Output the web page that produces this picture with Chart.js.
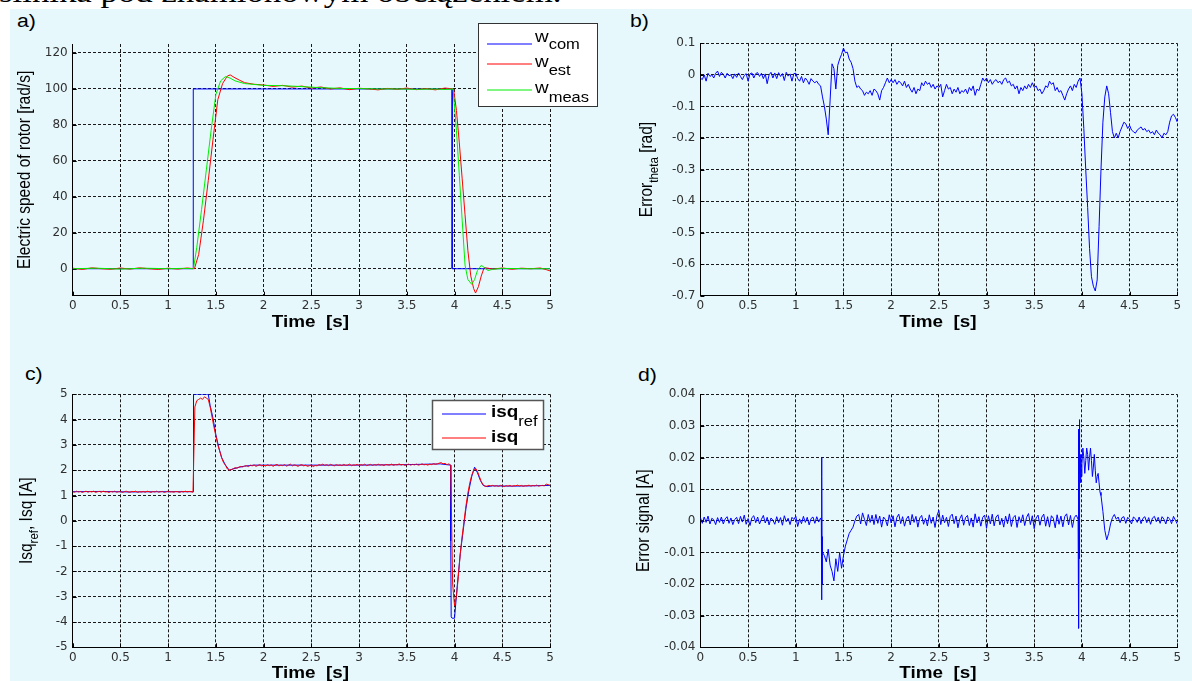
<!DOCTYPE html>
<html><head><meta charset="utf-8">
<script src="https://cdn.jsdelivr.net/npm/chart.js@4.4.0/dist/chart.umd.min.js"></script>
<style>
html,body{margin:0;padding:0;background:#fff;width:1192px;height:681px;overflow:hidden;position:relative}
#top{position:absolute;left:-1px;top:-22px;font-family:'Liberation Serif',serif;font-size:29px;line-height:29px;white-space:nowrap;transform:scaleX(1.2);transform-origin:0 0;color:#000}
#bg{position:absolute;left:10px;top:9px;width:1182px;height:672px;background:#e6f8fc}
.pl{position:absolute;font-family:'Liberation Sans',Arial,sans-serif;font-size:18px;line-height:18px;transform:scaleX(1.18);transform-origin:0 0;color:#000}
canvas{position:absolute;left:0;top:0}
</style></head><body>
<div id="top">silnika pod znamionowym obciążeniem.</div>
<div id="bg"></div>
<div class="pl" style="left:17px;top:12px">a)</div>
<div class="pl" style="left:630px;top:12px">b)</div>
<div class="pl" style="left:25px;top:365px">c)</div>
<div class="pl" style="left:638px;top:366px">d)</div>
<canvas id="ca" width="1192" height="681"></canvas>
<canvas id="cb" width="1192" height="681"></canvas>
<canvas id="cc" width="1192" height="681"></canvas>
<canvas id="cd" width="1192" height="681"></canvas>
<script>
// ---------- tick values ----------
const xTicks = [0,0.5,1,1.5,2,2.5,3,3.5,4,4.5,5];
const yTicksA = [0,20,40,60,80,100,120];
const yTicksB = [-0.7,-0.6,-0.5,-0.4,-0.3,-0.2,-0.1,0,0.1];
const yTicksC = [-5,-4,-3,-2,-1,0,1,2,3,4,5];
const yTicksD = [-0.04,-0.03,-0.02,-0.01,0,0.01,0.02,0.03,0.04];

// ---------- panel a: rotor speed ----------
const wComT = [0,1.263,1.263,3.975,3.975,5];
const wComV = [0,0,100,100,0,0];
const wEstT = [0,0.1,0.2,0.3,0.4,0.5,0.6,0.7,0.8,0.9,1.0,1.1,1.2,1.275,
  1.32,1.37,1.42,1.47,1.52,1.57,1.62,1.65,1.7,1.75,1.8,
  1.9,2.0,2.1,2.2,2.3,2.4,2.5,2.6,2.7,2.8,2.9,3.0,3.1,3.2,3.3,3.4,3.5,3.6,3.7,3.8,3.9,3.99,
  4.02,4.05,4.08,4.11,4.14,4.17,4.2,4.22,4.25,4.28,4.31,4.35,4.4,4.5,4.6,4.7,4.8,4.9,4.96,5.0];
const wEstV = [0.3,-0.4,0.5,0,-0.3,0.4,-0.2,0.5,0,-0.4,0.3,-0.2,0.4,0,
  8,27,49,72,94,103,107.2,107.8,106.2,104.8,103.5,
  102.6,102.2,101.4,102,101,101.6,100.5,101.1,100,100.6,99.6,100.4,100,99.5,100.3,99.8,100.5,99.6,100.2,99.5,100.5,100,
  88,70,50,30,10,-4,-11,-13.5,-10,-4,0.6,0.3,-0.2,0.4,-0.3,0.3,0,0.4,-0.5,-1.2];
const wMeasT = [0,0.25,0.5,0.75,1.0,1.15,1.265,
  1.3,1.35,1.4,1.45,1.5,1.55,1.6,1.65,1.7,
  1.8,1.9,2.0,2.2,2.4,2.6,2.8,3.0,3.2,3.4,3.6,3.8,3.9,
  3.985,4.02,4.05,4.08,4.11,4.14,4.18,4.21,4.24,4.28,4.31,4.35,4.4,4.5,4.75,5.0];
const wMeasV = [0,0.3,-0.2,0.3,0,0.2,0,
  12,33,55,77,97,104.5,106.9,106,104.5,
  103,102.5,102,101.8,101.3,100.7,100.3,100.2,100,100,99.8,100,99.7,
  100,77,52,27,2,-6,-8.7,-6,-1,1.9,0.8,-1,-0.3,0.2,0,0];

// ---------- panel b: theta error (sampled every 0.02 s) ----------
const dtB = 0.02;
const errTheta = [
 -0.01,-0.015,0.0,-0.02,0.005,-0.005,0.0,-0.01,0.005,0.012,
 -0.005,0.008,0.002,-0.01,0.005,-0.003,0.0,-0.012,0.003,-0.008,
 0.006,-0.005,-0.015,-0.002,0.004,-0.02,0.003,0.006,-0.01,0.004,
 0.007,-0.005,0.005,-0.012,0.003,-0.028,0.0,0.008,-0.01,0.006,
 -0.012,0.007,-0.005,0.004,-0.018,0.008,-0.004,0.003,-0.02,0.004,
 0.005,-0.012,-0.02,-0.005,-0.025,-0.01,-0.018,-0.03,-0.012,-0.02,
 -0.025,-0.02,-0.03,-0.035,-0.07,-0.1,-0.14,-0.19,-0.08,0.035,
 0.02,-0.045,0.03,0.05,0.065,0.085,0.07,0.072,0.05,0.04,
 0.02,-0.02,-0.04,-0.035,-0.045,-0.05,-0.065,-0.055,-0.06,-0.05,
 -0.065,-0.045,-0.05,-0.06,-0.08,-0.05,-0.04,-0.025,-0.01,-0.025,
 -0.015,-0.025,-0.015,-0.03,-0.02,-0.025,-0.035,-0.02,-0.04,-0.03,
 -0.045,-0.055,-0.04,-0.06,-0.045,-0.05,-0.025,-0.035,-0.02,-0.03,
 -0.025,-0.04,-0.03,-0.045,-0.035,-0.04,-0.03,-0.07,-0.05,-0.03,
 -0.045,-0.04,-0.06,-0.045,-0.055,-0.04,-0.06,-0.05,-0.055,-0.045,
 -0.06,-0.04,-0.05,-0.035,-0.065,-0.045,-0.05,-0.03,-0.01,-0.02,
 -0.01,-0.025,-0.015,-0.03,-0.02,-0.015,-0.025,-0.02,-0.03,-0.015,
 -0.01,-0.025,-0.02,-0.035,-0.03,-0.045,-0.035,-0.06,-0.04,-0.05,
 -0.035,-0.045,-0.03,-0.04,-0.025,-0.04,-0.035,-0.05,-0.045,-0.06,
 -0.05,-0.035,-0.04,-0.02,-0.03,-0.025,-0.05,-0.04,-0.055,-0.05,
 -0.065,-0.08,-0.06,-0.045,-0.035,-0.05,-0.03,-0.04,-0.02,-0.01,
 -0.06,-0.17,-0.3,-0.42,-0.55,-0.64,-0.67,-0.685,-0.65,-0.48,
 -0.3,-0.15,-0.07,-0.035,-0.06,-0.12,-0.18,-0.2,-0.185,-0.2,
 -0.18,-0.165,-0.15,-0.155,-0.17,-0.16,-0.175,-0.18,-0.185,-0.175,
 -0.17,-0.165,-0.175,-0.17,-0.18,-0.175,-0.185,-0.18,-0.19,-0.175,
 -0.185,-0.19,-0.2,-0.185,-0.19,-0.18,-0.15,-0.13,-0.125,-0.135,
 -0.15];

// ---------- panel c: q-axis current ----------
const isqRefT = [0,0.3,0.6,0.9,1.263,1.263,1.267,1.267,1.42,
  1.44,1.47,1.5,1.53,1.56,1.6,1.64,1.68,1.75,1.8,1.9,2.0,
  2.5,3.0,3.5,3.85,3.96,3.96,3.965,3.975,4.0,
  4.03,4.06,4.09,4.12,4.15,4.18,4.21,4.24,4.27,4.3,4.34,4.4,4.6,4.8,5.0];
const isqRefV = [1.15,1.16,1.14,1.15,1.15,2.9,2.9,5,5,
  4.55,4.05,3.4,2.9,2.5,2.2,2.0,2.05,2.12,2.16,2.2,2.2,
  2.2,2.2,2.22,2.25,2.2,-0.8,-3.8,-3.85,-3.85,
  -2.5,-1.3,-0.4,0.5,1.2,1.75,2.12,1.9,1.6,1.4,1.35,1.38,1.37,1.38,1.4];
const dtC = 0.02;
const isqV = [
 1.15,1.13,1.17,1.14,1.16,1.12,1.15,1.17,1.13,1.16,
 1.14,1.17,1.12,1.15,1.16,1.13,1.17,1.14,1.15,1.12,
 1.16,1.14,1.17,1.13,1.15,1.16,1.12,1.15,1.17,1.14,
 1.13,1.16,1.15,1.17,1.12,1.15,1.14,1.16,1.13,1.17,
 1.15,1.12,1.16,1.14,1.17,1.13,1.15,1.16,1.12,1.15,
 1.17,1.14,1.15,1.13,1.16,1.15,1.12,1.16,1.14,1.17,
 1.14,1.16,1.15,1.13,4.5,4.75,4.8,4.85,4.8,4.9,
 4.85,4.8,4.5,4.1,3.7,3.35,3.0,2.75,2.5,2.3,
 2.2,2.05,2.0,2.02,2.05,2.1,2.08,2.12,2.15,2.13,
 2.16,2.18,2.14,2.2,2.17,2.21,2.15,2.19,2.22,2.17,
 2.2,2.16,2.22,2.18,2.21,2.15,2.2,2.23,2.17,2.2,
 2.18,2.22,2.16,2.2,2.24,2.17,2.21,2.19,2.15,2.2,
 2.22,2.17,2.2,2.15,2.18,2.21,2.14,2.19,2.17,2.22,
 2.2,2.24,2.19,2.22,2.18,2.23,2.2,2.17,2.22,2.19,
 2.21,2.18,2.23,2.19,2.2,2.24,2.18,2.21,2.2,2.23,
 2.19,2.22,2.2,2.24,2.18,2.21,2.23,2.19,2.22,2.2,
 2.24,2.2,2.22,2.18,2.23,2.21,2.2,2.24,2.19,2.22,
 2.21,2.25,2.2,2.23,2.19,2.22,2.24,2.2,2.23,2.21,
 2.24,2.2,2.22,2.25,2.21,2.23,2.2,2.24,2.22,2.26,
 2.23,2.25,2.28,2.3,2.25,2.27,2.22,2.25,2.2,-2.5,
 -3.35,-3.0,-2.2,-1.3,-0.6,0.0,0.6,1.1,1.5,1.8,
 2.0,2.08,1.95,1.75,1.55,1.42,1.36,1.37,1.4,1.38,
 1.4,1.37,1.39,1.36,1.4,1.38,1.35,1.39,1.37,1.4,
 1.36,1.39,1.38,1.41,1.37,1.4,1.36,1.39,1.38,1.41,
 1.37,1.4,1.38,1.41,1.37,1.39,1.4,1.38,1.45,1.43,
 1.4];

// ---------- panel d: current error signal ----------
const dtD = 0.02;
const errSigV = [
 0.001,-0.0008,0.0012,-0.0005,0.0015,-0.001,0.0008,0.0003,-0.0012,0.001,
 -0.0005,0.0012,-0.001,0.0006,0.0013,-0.0008,0.0009,-0.0012,0.0004,0.0011,
 -0.0009,0.0014,-0.0004,0.0018,-0.0011,0.0007,-0.0015,0.001,0.0016,-0.0006,
 0.0012,-0.001,0.0005,0.0017,-0.0007,0.0011,-0.0013,0.0009,0.0002,-0.0011,
 0.0013,-0.0006,0.001,-0.0014,0.0016,-0.0003,0.0008,-0.0012,0.0011,0.0004,
 0.0015,-0.0018,0.0006,-0.0009,0.0014,-0.0005,0.0011,-0.0013,0.0007,0.0012,
 -0.0008,0.0013,-0.0004,0.0009,-0.01,-0.011,-0.013,-0.009,-0.014,-0.016,
 -0.019,-0.012,-0.016,-0.01,-0.015,-0.011,-0.008,-0.006,-0.004,-0.003,
 -0.002,0.0,0.0015,0.002,-0.001,0.0025,0.0005,-0.0015,0.002,-0.0005,
 0.0018,-0.0012,0.002,-0.0008,0.0015,-0.002,0.0012,0.0004,-0.0016,0.0019,
 -0.0007,0.0016,-0.0019,0.0011,0.0021,-0.0009,0.0013,-0.0017,0.0006,0.0015,
 -0.0013,0.002,-0.0005,0.0014,-0.002,0.0009,0.0017,-0.0011,0.0008,-0.0016,
 0.0019,-0.0008,0.0012,-0.0021,0.0016,0.0033,-0.0012,0.0018,-0.0006,0.0011,
 -0.0018,0.0014,0.0021,-0.0009,0.0015,-0.0022,0.0007,0.0019,-0.0014,0.001,
 0.0017,-0.0015,0.0009,-0.002,0.0022,-0.0007,0.0013,-0.0017,0.0011,0.0018,
 -0.0024,0.0016,-0.001,0.0021,-0.0016,0.0012,0.0019,-0.0013,0.0008,-0.002,
 0.0015,-0.0009,0.0022,-0.0018,0.001,0.0017,-0.0021,0.0013,-0.0006,0.0019,
 -0.0015,0.0011,0.0023,-0.0012,0.0016,-0.0025,0.0009,0.0018,-0.0014,0.0012,
 0.0021,-0.0017,0.0013,-0.002,0.0016,0.0008,-0.0022,0.0019,-0.0011,0.0015,
 -0.0019,0.0014,0.0022,-0.0013,0.0017,-0.0021,0.001,0.0018,0.0005,0.02,
 0.018,0.02,0.019,0.021,0.02,0.019,0.017,0.016,0.014,0.012,
 0.008,0.003,-0.003,-0.006,-0.004,-0.001,0.001,0.002,0.0005,0.0012,
 -0.0006,0.001,0.0013,-0.0008,0.0011,0.0004,-0.001,0.0012,0.0007,-0.0005,
 0.0012,-0.0009,0.0008,0.0013,-0.0006,0.001,-0.0011,0.0009,0.0014,-0.0003,
 0.0011,-0.0008,0.0013,0.0005,-0.001,0.0012,0.0006,-0.0009,0.0014,0.0002,
 -0.001];
const errSpikeT = [1.268,1.270,1.272,1.274,1.276,1.278,
  3.962,3.964,3.966,3.968,3.970,3.972,3.974,3.976,3.978,3.985,3.99,3.995,
  4.01,4.03,4.05,4.07,4.09,4.11,4.13,4.15,4.17,4.19];
const errSpikeV = [0.0,0.02,-0.025,0.014,-0.02,-0.005,
  0.002,0.029,-0.01,-0.034,0.0,0.032,-0.012,0.025,0.015,0.012,0.021,0.014,
  0.023,0.015,0.023,0.016,0.023,0.014,0.021,0.012,0.015,0.009];

// ---------- series names ----------
const legendA = [{main:'w', sub:'com'}, {main:'w', sub:'est'}, {main:'w', sub:'meas'}];
const legendC = [{main:'isq', sub:'ref'}, {main:'isq', sub:''}];

// ---------- helpers ----------
const pts = (T, V) => T.map((t, i) => ({x: t, y: V[i]}));
const gridPts = (V, dt) => V.map((v, i) => ({x: Math.round(i * dt * 1000) / 1000, y: v}));
const SX = 1.18;
const BLUE = '#0000ff', RED = '#ff0000', GREEN = '#00ee00';

function rich(ctx, parts, cx, cy, vertical) {
  ctx.save();
  ctx.translate(cx, cy);
  if (vertical) { ctx.rotate(-Math.PI / 2); ctx.scale(1, SX); } else { ctx.scale(SX, 1); }
  let w = 0;
  parts.forEach(p => { ctx.font = p.font; p.w = ctx.measureText(p.t).width; w += p.w; });
  let x = -w / 2;
  ctx.textBaseline = 'alphabetic'; ctx.textAlign = 'left'; ctx.fillStyle = '#000';
  parts.forEach(p => { ctx.font = p.font; ctx.fillText(p.t, x, (p.dy || 0)); x += p.w; });
  ctx.restore();
}

function drawLegend(ctx, L, names, colors) {
  ctx.save();
  ctx.fillStyle = '#fff';
  ctx.fillRect(L.x, L.y, L.w, L.h);
  ctx.strokeStyle = L.border; ctx.lineWidth = L.bw;
  ctx.strokeRect(L.x + 0.5, L.y + 0.5, L.w - 1, L.h - 1);
  names.forEach((n, i) => {
    const r = L.rows[i];
    ctx.strokeStyle = colors[i]; ctx.lineWidth = 1;
    ctx.beginPath(); ctx.moveTo(L.lx0, r.line); ctx.lineTo(L.lx1, r.line); ctx.stroke();
    ctx.save();
    ctx.translate(L.tx, 0); ctx.scale(SX, 1);
    ctx.fillStyle = '#000'; ctx.textBaseline = 'alphabetic'; ctx.textAlign = 'left';
    ctx.font = L.mainFont; ctx.fillText(n.main, 0, r.base);
    const w = ctx.measureText(n.main).width;
    if (n.sub) { ctx.font = L.subFont; ctx.fillText(n.sub, w, r.sub); }
    ctx.restore();
  });
  ctx.restore();
}

const TITLE = "15.5px 'Liberation Sans', Arial, sans-serif";
const SUBF = "11.5px 'Liberation Sans', Arial, sans-serif";
const XTITLE = "bold 16px 'Liberation Sans', Arial, sans-serif";

function makeChart(id, spec) {
  const A = spec.area;
  const XH = 30;
  const decoPlugin = {
    id: 'deco' + id,
    beforeDatasetsDraw(chart) {
      const ctx = chart.ctx, ca = chart.chartArea;
      ctx.save();
      ctx.strokeStyle = '#000'; ctx.lineWidth = 1;
      chart.scales.y.ticks.forEach(t => {
        const y = Math.round(chart.scales.y.getPixelForValue(t.value)) + 0.5;
        ctx.beginPath(); ctx.moveTo(ca.left, y); ctx.lineTo(ca.left + 4, y); ctx.stroke();
      });
      chart.scales.x.ticks.forEach(t => {
        const x = Math.round(chart.scales.x.getPixelForValue(t.value)) + 0.5;
        ctx.beginPath(); ctx.moveTo(x, ca.bottom); ctx.lineTo(x, ca.bottom - 4); ctx.stroke();
      });
      ctx.restore();
    },
    afterDraw(chart) {
      const ctx = chart.ctx, ca = chart.chartArea;
      rich(ctx, spec.yTitle, spec.yTitlePos[0], (ca.top + ca.bottom) / 2, true);
      rich(ctx, [{t: 'Time  [s]', font: XTITLE}], (ca.left + ca.right) / 2 - 1, ca.bottom + spec.xTitleOff, false);
      if (spec.legend) drawLegend(ctx, spec.legend, spec.legendNames, spec.legendColors);
    }
  };
  return new Chart(document.getElementById(id), {
    type: 'line',
    data: {
      datasets: spec.datasets.map(d => ({
        data: d.data, borderColor: d.color, borderWidth: 1, pointRadius: 0,
        fill: false, tension: 0, spanGaps: true
      }))
    },
    options: {
      responsive: false, animation: false, devicePixelRatio: 1, events: [],
      layout: {padding: {left: 0, top: A.t, right: 1192 - A.r, bottom: 681 - A.b - XH}},
      plugins: {legend: {display: false}, tooltip: {enabled: false}},
      scales: {
        x: {
          type: 'linear', min: 0, max: 5,
          afterFit: s => { s.height = XH; },
          afterBuildTicks: s => { s.ticks = xTicks.map(v => ({value: v})); },
          ticks: {autoSkip: false, maxRotation: 0, minRotation: 0, padding: 3, color: '#303030',
                  font: {family: 'DejaVu Sans', size: 12}, callback: v => String(v)},
          grid: {color: '#1a1a1a', lineWidth: 1, drawTicks: false},
          border: {color: '#000', width: 1, dash: [3, 2]}
        },
        y: {
          type: 'linear', min: spec.yMin, max: spec.yMax,
          afterFit: s => { s.width = A.l; },
          afterBuildTicks: s => { s.ticks = spec.yTicks.map(v => ({value: v})); },
          ticks: {autoSkip: false, padding: 5, color: '#303030',
                  font: {family: 'DejaVu Sans', size: 12}, callback: v => String(v)},
          grid: {color: '#1a1a1a', lineWidth: 1, drawTicks: false},
          border: {color: '#000', width: 1, dash: [3, 2]}
        }
      }
    },
    plugins: [decoPlugin]
  });
}

// ---------- panel a ----------
makeChart('ca', {
  area: {l: 72.7, r: 550, t: 44, b: 295.7},
  yMin: -15, yMax: 125, yTicks: yTicksA,
  datasets: [
    {data: pts(wMeasT, wMeasV), color: GREEN},
    {data: pts(wEstT, wEstV), color: RED},
    {data: pts(wComT, wComV), color: BLUE}
  ],
  yTitle: [{t: 'Electric speed of rotor [rad/s]', font: TITLE}],
  yTitlePos: [30.4], xTitleOff: 30.8,
  legend: {x: 478, y: 23, w: 120, h: 84, border: '#333', bw: 1, lx0: 487, lx1: 532, tx: 535,
           mainFont: "16px 'Liberation Sans', Arial, sans-serif", subFont: "14px 'Liberation Sans', Arial, sans-serif",
           rows: [{line: 44, base: 42, sub: 49}, {line: 64, base: 67, sub: 75}, {line: 90, base: 93, sub: 101.5}]},
  legendNames: legendA, legendColors: [BLUE, RED, GREEN]
});

// ---------- panel b ----------
makeChart('cb', {
  area: {l: 700.4, r: 1177.3, t: 43.3, b: 295.7},
  yMin: -0.7, yMax: 0.1, yTicks: yTicksB,
  datasets: [{data: gridPts(errTheta, dtB), color: BLUE}],
  yTitle: [{t: 'Error', font: TITLE}, {t: 'theta', font: SUBF, dy: 5}, {t: ' [rad]', font: TITLE}],
  yTitlePos: [652], xTitleOff: 30.8
});

// ---------- panel c ----------
makeChart('cc', {
  area: {l: 72.7, r: 550, t: 394.3, b: 647.3},
  yMin: -5, yMax: 5, yTicks: yTicksC,
  datasets: [
    {data: gridPts(isqV, dtC), color: RED},
    {data: pts(isqRefT, isqRefV), color: BLUE}
  ],
  yTitle: [{t: 'Isq', font: TITLE}, {t: 'ref', font: SUBF, dy: 5}, {t: ', Isq [A]', font: TITLE}],
  yTitlePos: [32], xTitleOff: 30.7,
  legend: {x: 432, y: 400, w: 112, h: 50, border: '#555', bw: 1.5, lx0: 442, lx1: 486, tx: 491,
           mainFont: "bold 16px 'Liberation Sans', Arial, sans-serif", subFont: "14px 'Liberation Sans', Arial, sans-serif",
           rows: [{line: 414, base: 417, sub: 426}, {line: 438, base: 442, sub: 450}]},
  legendNames: legendC, legendColors: [BLUE, RED]
});

// ---------- panel d ----------
const dPts = gridPts(errSigV, dtD).concat(pts(errSpikeT, errSpikeV)).sort((a, b) => a.x - b.x);
makeChart('cd', {
  area: {l: 700.4, r: 1177.3, t: 394.3, b: 647.3},
  yMin: -0.04, yMax: 0.04, yTicks: yTicksD,
  datasets: [{data: dPts, color: BLUE}],
  yTitle: [{t: 'Error signal [A]', font: TITLE}],
  yTitlePos: [649.4], xTitleOff: 30.7
});
</script>
</body></html>
